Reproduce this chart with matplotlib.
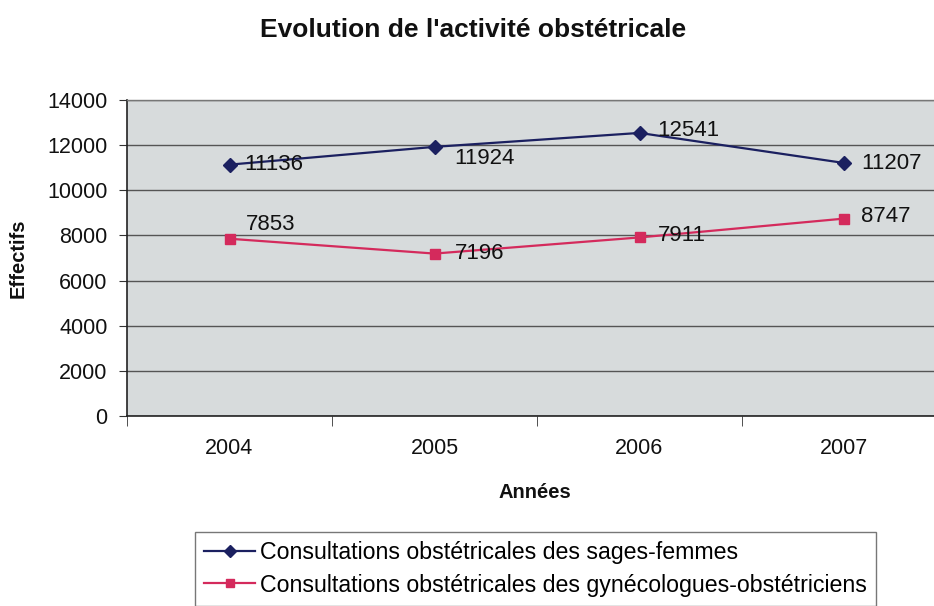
import matplotlib
matplotlib.use("Agg")
import matplotlib.pyplot as plt

years = ["2004", "2005", "2006", "2007"]
sages_femmes = [11136, 11924, 12541, 11207]
gyneco = [7853, 7196, 7911, 8747]
label_sf = "Consultations obstétricales des sages-femmes"
label_gy = "Consultations obstétricales des gynécologues-obstétriciens"
yticks = [0, 2000, 4000, 6000, 8000, 10000, 12000, 14000]

plt.rcParams['font.family'] = ['Liberation Sans', 'DejaVu Sans']

W, H = 934, 606
fig = plt.figure(figsize=(W / 100, H / 100), dpi=100)
ax = fig.add_axes([127 / W, 1 - 416 / H, (947 - 127) / W, (416 - 100) / H])
ax.set_facecolor('#d7dbdc')

x = list(range(len(years)))
navy = '#1b2060'
pink = '#d42a5c'
ax.plot(x, sages_femmes, color=navy, lw=1.6, marker='D', ms=7, mfc=navy, mec=navy,
        label=label_sf, zorder=3)
ax.plot(x, gyneco, color=pink, lw=1.6, marker='s', ms=7.5, mfc=pink, mec=pink,
        label=label_gy, zorder=3)

# data labels
off_sf = [(15, 0), (20, -12), (18, 2), (17, 0)]
off_gy = [(16, 14), (20, 0), (18, 2), (17, 2)]
for xi, v, o in zip(x, sages_femmes, off_sf):
    ax.annotate(str(v), (xi, v), xytext=o, textcoords='offset pixels',
                ha='left', va='center', fontsize=16, color='#111111', zorder=4,
                annotation_clip=False)
for xi, v, o in zip(x, gyneco, off_gy):
    ax.annotate(str(v), (xi, v), xytext=o, textcoords='offset pixels',
                ha='left', va='center', fontsize=16, color='#111111', zorder=4,
                annotation_clip=False)

ax.set_xlim(-0.5, len(years) - 0.5)
ax.set_ylim(0, 14000)
ax.set_yticks(yticks)
ax.set_yticklabels([str(t) for t in yticks], fontsize=15.5, color='#111111')
ax.yaxis.grid(True, color='#555555', lw=1.0)
ax.set_axisbelow(True)

ax.set_xticks(x)
ax.set_xticklabels(years, fontsize=15.5, color='#111111')
ax.set_xticks([i - 0.5 for i in range(len(years) + 1)], minor=True)
ax.tick_params(axis='x', which='major', length=0, pad=16)
ax.tick_params(axis='x', which='minor', length=7, color='#333333', direction='out')
ax.tick_params(axis='y', length=6, color='#333333', direction='out', pad=8)

for s in ['top', 'right']:
    ax.spines[s].set_color('#777777')
    ax.spines[s].set_linewidth(1.0)
for s in ['left', 'bottom']:
    ax.spines[s].set_color('#222222')
    ax.spines[s].set_linewidth(1.2)

fig.text(473 / W, 1 - 30 / H, "Evolution de l'activité obstétricale", fontsize=19,
         fontweight='bold', ha='center', va='center', color='#111111')
fig.text(535 / W, 1 - 492 / H, "Années", fontsize=14.5, fontweight='bold',
         ha='center', va='center', color='#111111')
fig.text(18 / W, 1 - 258 / H, "Effectifs", fontsize=14.5, fontweight='bold',
         ha='center', va='center', rotation=90, color='#111111')

leg = fig.legend(loc='upper left', bbox_to_anchor=(195 / W, 1 - 532 / H),
                 fontsize=16.7, frameon=True, fancybox=False, edgecolor='#555555',
                 handlelength=2.2, handletextpad=0.2, borderpad=0.4,
                 labelspacing=0.4, borderaxespad=0, markerscale=0.85)
leg.get_frame().set_linewidth(1.0)

fig.savefig('out.png', dpi=100)
